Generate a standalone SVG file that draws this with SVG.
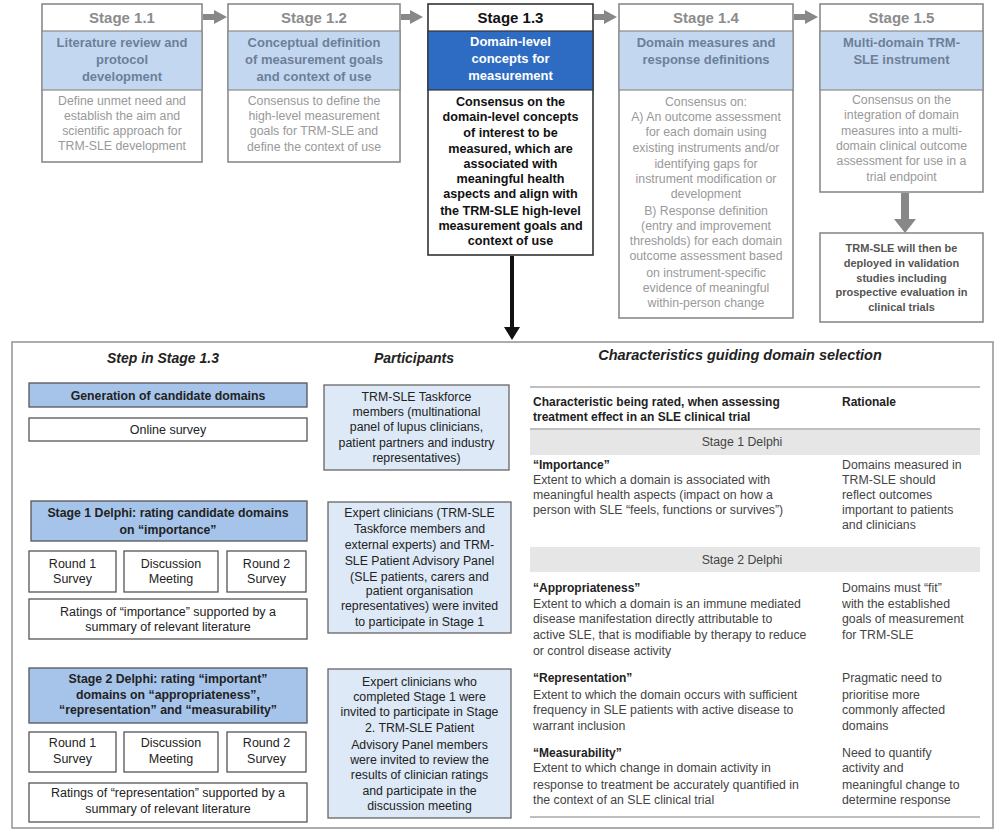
<svg xmlns="http://www.w3.org/2000/svg" width="1000" height="839" viewBox="0 0 1000 839">
<style>
text{font-family:"Liberation Sans",Arial,sans-serif;text-anchor:middle}
.fbox{fill:#fff;stroke:#8a8a8a;stroke-width:1.6}
.fband{fill:#c3d8f0;stroke:#8a8a8a;stroke-width:1.2}
.fh{font-size:15px;font-weight:bold;fill:#8c8c8c}
.fb{font-size:13px;font-weight:bold;fill:#6d7f98}
.ft{font-size:12.3px;fill:#999}
.abox{fill:#fff;stroke:#333;stroke-width:1.6}
.wbox{fill:#fff;stroke:#555;stroke-width:1.3}
.bbox{fill:#a6c4ea;stroke:#555;stroke-width:1.3}
.pbox{fill:#dde9f6;stroke:#666;stroke-width:1.3}
.lt{font-size:12.5px;fill:#222}
.lb{font-size:12.3px;font-weight:bold;fill:#222}
.pt{font-size:12.3px;fill:#222}
.hd{font-size:14px;font-weight:bold;font-style:italic;fill:#222}
.tt{font-size:12.3px;fill:#444;text-anchor:start}
.tb{font-size:12px;font-weight:bold;fill:#222;text-anchor:start}
.tc{font-size:12.3px;fill:#444}
.rule{stroke:#aaa;stroke-width:1.5}
.band{fill:#e6e6e6}
.garrow{fill:#888}
.karrow{fill:#111}
</style>

<g id="connectors">
  <polygon class="garrow" points="203,14 214,14 214,10 227,17 214,24 214,20 203,20"/>
  <polygon class="garrow" points="401,14 410,14 410,10 423,17 410,24 410,20 401,20"/>
  <polygon class="garrow" points="594,14 604,14 604,10 617,17 604,24 604,20 594,20"/>
  <polygon class="garrow" points="794,14 805,14 805,10 818,17 805,24 805,20 794,20"/>
  <polygon class="garrow" points="901,193 909,193 909,219 916,219 905,233 894,219 901,219"/>
  <polygon class="karrow" points="510,256 514,256 514,327 520,327 512,340 504,327 510,327"/>
  <polygon class="karrow" points="166,442 170,442 170,484 177,484 168,498 159,484 166,484"/>
  <polygon class="karrow" points="166,640 170,640 170,654 177,654 168,667 159,654 166,654"/>
</g>

<g id="stage11">
  <rect class="fbox" x="42" y="4" width="160" height="158"/>
  <rect class="fband" x="42" y="31" width="160" height="59"/>
  <text class="fh" x="122" y="23">Stage 1.1</text>
  <text class="fb" x="122" y="47">Literature review and</text>
  <text class="fb" x="122" y="64">protocol</text>
  <text class="fb" x="122" y="81">development</text>
  <text class="ft" x="122" y="105">Define unmet need and</text>
  <text class="ft" x="122" y="120">establish the aim and</text>
  <text class="ft" x="122" y="135">scientific approach for</text>
  <text class="ft" x="122" y="150">TRM-SLE development</text>
</g>

<g id="stage12">
  <rect class="fbox" x="228" y="4" width="172" height="158"/>
  <rect class="fband" x="228" y="31" width="172" height="59"/>
  <text class="fh" x="314" y="23">Stage 1.2</text>
  <text class="fb" x="314" y="47">Conceptual definition</text>
  <text class="fb" x="314" y="64">of measurement goals</text>
  <text class="fb" x="314" y="81">and context of use</text>
  <text class="ft" x="314" y="105">Consensus to define the</text>
  <text class="ft" x="314" y="120">high-level measurement</text>
  <text class="ft" x="314" y="135">goals for TRM-SLE and</text>
  <text class="ft" x="314" y="151">define the context of use</text>
</g>

<g id="stage13">
  <rect class="abox" x="428" y="4" width="165" height="251"/>
  <rect x="428" y="31" width="165" height="59" fill="#2d6cc2" stroke="#333" stroke-width="1.2"/>
  <text x="510.5" y="23" style="font-size:15px;font-weight:bold;fill:#111">Stage 1.3</text>
  <text x="510.5" y="46" style="font-size:13px;font-weight:bold;fill:#fff">Domain-level</text>
  <text x="510.5" y="63" style="font-size:13px;font-weight:bold;fill:#fff">concepts for</text>
  <text x="510.5" y="80" style="font-size:13px;font-weight:bold;fill:#fff">measurement</text>
  <g style="font-size:12.6px;font-weight:bold;fill:#111">
  <text x="510.5" y="106">Consensus on the</text>
  <text x="510.5" y="121">domain-level concepts</text>
  <text x="510.5" y="137">of interest to be</text>
  <text x="510.5" y="153">measured, which are</text>
  <text x="510.5" y="168">associated with</text>
  <text x="510.5" y="183">meaningful health</text>
  <text x="510.5" y="198">aspects and align with</text>
  <text x="510.5" y="215">the TRM-SLE high-level</text>
  <text x="510.5" y="230">measurement goals and</text>
  <text x="510.5" y="245">context of use</text>
  </g>
</g>

<g id="stage14">
  <rect class="fbox" x="619" y="4" width="174" height="314"/>
  <rect class="fband" x="619" y="31" width="174" height="59"/>
  <text class="fh" x="706" y="23">Stage 1.4</text>
  <text class="fb" x="706" y="47">Domain measures and</text>
  <text class="fb" x="706" y="64">response definitions</text>
  <text class="ft" x="706" y="106">Consensus on:</text>
  <text class="ft" x="706" y="121">A) An outcome assessment</text>
  <text class="ft" x="706" y="136">for each domain using</text>
  <text class="ft" x="706" y="152">existing instruments and/or</text>
  <text class="ft" x="706" y="168">identifying gaps for</text>
  <text class="ft" x="706" y="183">instrument modification or</text>
  <text class="ft" x="706" y="198">development</text>
  <text class="ft" x="706" y="215">B) Response definition</text>
  <text class="ft" x="706" y="230">(entry and improvement</text>
  <text class="ft" x="706" y="245">thresholds) for each domain</text>
  <text class="ft" x="706" y="260">outcome assessment based</text>
  <text class="ft" x="706" y="277">on instrument-specific</text>
  <text class="ft" x="706" y="292">evidence of meaningful</text>
  <text class="ft" x="706" y="307">within-person change</text>
</g>

<g id="stage15">
  <rect class="fbox" x="820" y="4" width="163" height="188"/>
  <rect class="fband" x="820" y="31" width="163" height="59"/>
  <text class="fh" x="901.5" y="23">Stage 1.5</text>
  <text class="fb" x="901.5" y="47">Multi-domain TRM-</text>
  <text class="fb" x="901.5" y="64">SLE instrument</text>
  <text class="ft" x="901.5" y="104">Consensus on the</text>
  <text class="ft" x="901.5" y="119">integration of domain</text>
  <text class="ft" x="901.5" y="135">measures into a multi-</text>
  <text class="ft" x="901.5" y="150">domain clinical outcome</text>
  <text class="ft" x="901.5" y="165">assessment for use in a</text>
  <text class="ft" x="901.5" y="181">trial endpoint</text>
</g>

<g id="deploy">
  <rect class="fbox" x="820" y="233" width="163" height="89"/>
  <g style="font-size:11px;font-weight:bold;fill:#555">
  <text x="901.5" y="252">TRM-SLE will then be</text>
  <text x="901.5" y="267">deployed in validation</text>
  <text x="901.5" y="282">studies including</text>
  <text x="901.5" y="296">prospective evaluation in</text>
  <text x="901.5" y="311">clinical trials</text>
  </g>
</g>

<g id="panel">
  <rect x="12" y="342" width="981" height="486" fill="#fff" stroke="#999" stroke-width="1.6"/>
  <text class="hd" x="163" y="363">Step in Stage 1.3</text>
  <text class="hd" x="414" y="363">Participants</text>
  <text class="hd" x="740" y="360" style="font-size:14.5px">Characteristics guiding domain selection</text>
</g>

<g id="gen">
  <rect class="bbox" x="29" y="383" width="278" height="24"/>
  <text class="lb" x="168" y="399.5">Generation of candidate domains</text>
</g>
<g id="online">
  <rect class="wbox" x="29" y="418" width="278" height="23"/>
  <text class="lt" x="168" y="434">Online survey</text>
</g>
<g id="delphi1">
  <rect class="bbox" x="31" y="501" width="276" height="40"/>
  <text class="lb" x="168" y="517">Stage 1 Delphi: rating candidate domains</text>
  <text class="lb" x="168" y="534">on “importance”</text>
</g>
<g id="d1r1">
  <rect class="wbox" x="29" y="551" width="87" height="41"/>
  <text class="lt" x="72.5" y="568">Round 1</text>
  <text class="lt" x="72.5" y="583">Survey</text>
</g>
<g id="d1disc">
  <rect class="wbox" x="124" y="551" width="94" height="41"/>
  <text class="lt" x="171" y="568">Discussion</text>
  <text class="lt" x="171" y="583">Meeting</text>
</g>
<g id="d1r2">
  <rect class="wbox" x="227" y="551" width="79" height="41"/>
  <text class="lt" x="266.5" y="568">Round 2</text>
  <text class="lt" x="266.5" y="583">Survey</text>
</g>
<g id="d1rat">
  <rect class="wbox" x="29" y="599" width="278" height="40"/>
  <text class="lt" x="168" y="616">Ratings of “importance” supported by a</text>
  <text class="lt" x="168" y="631">summary of relevant literature</text>
</g>
<g id="delphi2">
  <rect class="bbox" x="29" y="668" width="278" height="55"/>
  <text class="lb" x="168" y="683">Stage 2 Delphi: rating “important”</text>
  <text class="lb" x="168" y="699">domains on “appropriateness”,</text>
  <text class="lb" x="168" y="714">“representation” and “measurability”</text>
</g>
<g id="d2r1">
  <rect class="wbox" x="29" y="732" width="87" height="40"/>
  <text class="lt" x="72.5" y="747">Round 1</text>
  <text class="lt" x="72.5" y="763">Survey</text>
</g>
<g id="d2disc">
  <rect class="wbox" x="124" y="732" width="94" height="40"/>
  <text class="lt" x="171" y="747">Discussion</text>
  <text class="lt" x="171" y="763">Meeting</text>
</g>
<g id="d2r2">
  <rect class="wbox" x="227" y="732" width="79" height="40"/>
  <text class="lt" x="266.5" y="747">Round 2</text>
  <text class="lt" x="266.5" y="763">Survey</text>
</g>
<g id="d2rat">
  <rect class="wbox" x="29" y="783" width="278" height="39"/>
  <text class="lt" x="168" y="797">Ratings of “representation” supported by a</text>
  <text class="lt" x="168" y="813">summary of relevant literature</text>
</g>

<g id="part1">
  <rect class="pbox" x="324" y="385" width="185" height="85"/>
  <text class="pt" x="416.5" y="401">TRM-SLE Taskforce</text>
  <text class="pt" x="416.5" y="416">members (multinational</text>
  <text class="pt" x="416.5" y="431">panel of lupus clinicians,</text>
  <text class="pt" x="416.5" y="447">patient partners and industry</text>
  <text class="pt" x="416.5" y="462">representatives)</text>
</g>
<g id="part2">
  <rect class="pbox" x="328" y="502" width="183" height="131"/>
  <text class="pt" x="419.5" y="517">Expert clinicians (TRM-SLE</text>
  <text class="pt" x="419.5" y="533">Taskforce members and</text>
  <text class="pt" x="419.5" y="549">external experts) and TRM-</text>
  <text class="pt" x="419.5" y="565">SLE Patient Advisory Panel</text>
  <text class="pt" x="419.5" y="581">(SLE patients, carers and</text>
  <text class="pt" x="419.5" y="595">patient organisation</text>
  <text class="pt" x="419.5" y="610">representatives) were invited</text>
  <text class="pt" x="419.5" y="626">to participate in Stage 1</text>
</g>
<g id="part3">
  <rect class="pbox" x="328" y="669" width="183" height="149"/>
  <text class="pt" x="419.5" y="686">Expert clinicians who</text>
  <text class="pt" x="419.5" y="701">completed Stage 1 were</text>
  <text class="pt" x="419.5" y="716">invited to participate in Stage</text>
  <text class="pt" x="419.5" y="732">2. TRM-SLE Patient</text>
  <text class="pt" x="419.5" y="749">Advisory Panel members</text>
  <text class="pt" x="419.5" y="764">were invited to review the</text>
  <text class="pt" x="419.5" y="779">results of clinician ratings</text>
  <text class="pt" x="419.5" y="795">and participate in the</text>
  <text class="pt" x="419.5" y="810">discussion meeting</text>
</g>

<g id="table">
  <line class="rule" x1="530" y1="387" x2="980" y2="387"/>
  <text class="tb" x="533" y="406">Characteristic being rated, when assessing</text>
  <text class="tb" x="533" y="421">treatment effect in an SLE clinical trial</text>
  <text class="tb" x="842" y="406">Rationale</text>
  <line class="rule" x1="530" y1="429" x2="980" y2="429"/>
  <rect class="band" x="530" y="430" width="450" height="25"/>
  <text class="tc" x="742" y="446">Stage 1 Delphi</text>
  <text class="tb" x="533" y="469">“Importance”</text>
  <text class="tt" x="533" y="484">Extent to which a domain is associated with</text>
  <text class="tt" x="533" y="499">meaningful health aspects (impact on how a</text>
  <text class="tt" x="533" y="514">person with SLE “feels, functions or survives”)</text>
  <text class="tt" x="842" y="469">Domains measured in</text>
  <text class="tt" x="842" y="484">TRM-SLE should</text>
  <text class="tt" x="842" y="499">reflect outcomes</text>
  <text class="tt" x="842" y="514">important to patients</text>
  <text class="tt" x="842" y="529">and clinicians</text>
  <rect class="band" x="530" y="547" width="450" height="25"/>
  <text class="tc" x="742" y="564">Stage 2 Delphi</text>
  <text class="tb" x="533" y="592">“Appropriateness”</text>
  <text class="tt" x="533" y="608">Extent to which a domain is an immune mediated</text>
  <text class="tt" x="533" y="623">disease manifestation directly attributable to</text>
  <text class="tt" x="533" y="639">active SLE, that is modifiable by therapy to reduce</text>
  <text class="tt" x="533" y="655">or control disease activity</text>
  <text class="tt" x="842" y="592">Domains must “fit”</text>
  <text class="tt" x="842" y="608">with the established</text>
  <text class="tt" x="842" y="623">goals of measurement</text>
  <text class="tt" x="842" y="639">for TRM-SLE</text>
  <text class="tb" x="533" y="682">“Representation”</text>
  <text class="tt" x="533" y="699">Extent to which the domain occurs with sufficient</text>
  <text class="tt" x="533" y="714">frequency in SLE patients with active disease to</text>
  <text class="tt" x="533" y="730">warrant inclusion</text>
  <text class="tt" x="842" y="682">Pragmatic need to</text>
  <text class="tt" x="842" y="699">prioritise more</text>
  <text class="tt" x="842" y="714">commonly affected</text>
  <text class="tt" x="842" y="730">domains</text>
  <text class="tb" x="533" y="757">“Measurability”</text>
  <text class="tt" x="533" y="772">Extent to which change in domain activity in</text>
  <text class="tt" x="533" y="789">response to treatment be accurately quantified in</text>
  <text class="tt" x="533" y="804">the context of an SLE clinical trial</text>
  <text class="tt" x="842" y="757">Need to quantify</text>
  <text class="tt" x="842" y="772">activity and</text>
  <text class="tt" x="842" y="789">meaningful change to</text>
  <text class="tt" x="842" y="804">determine response</text>
  <line class="rule" x1="530" y1="817" x2="980" y2="817"/>
</g>
</svg>
